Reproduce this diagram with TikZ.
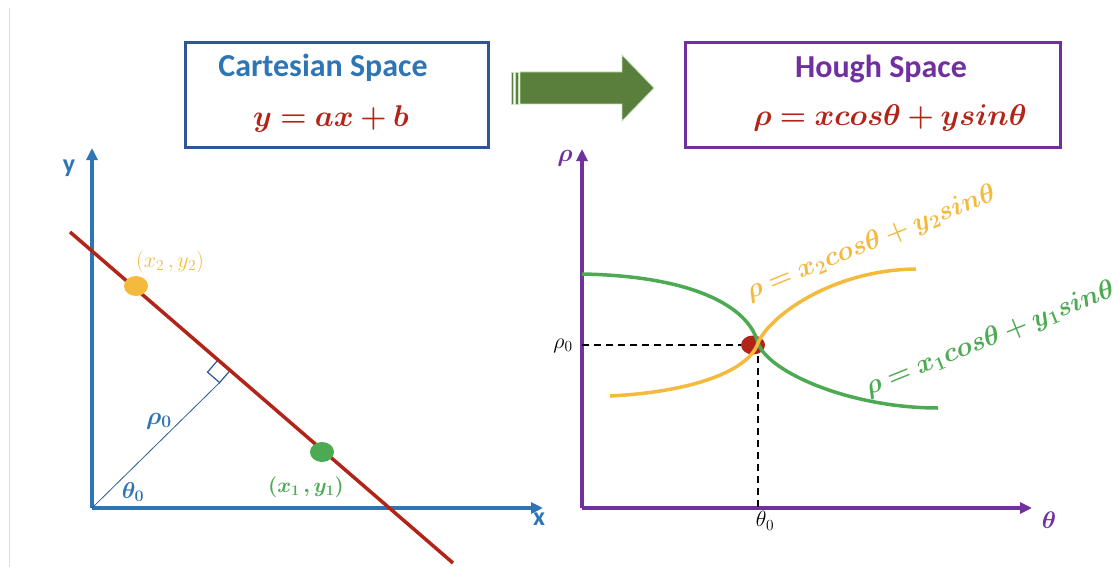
\RequirePackage{fix-cm}
\documentclass[tikz,border=0pt]{standalone}
\usepackage{amsmath,amssymb}
\usepackage{bm}
\usepackage{fontspec}
\setmainfont{Carlito}
\usepackage{xcolor}
\usepackage{tikz}
\usetikzlibrary{arrows.meta,calc}

\definecolor{cartblue}{HTML}{2E75B6}
\definecolor{boxblue}{HTML}{2F5597}
\definecolor{houghpurple}{HTML}{7030A0}
\definecolor{eqred}{HTML}{B22418}
\definecolor{arrowgreen}{HTML}{5A7F3C}
\definecolor{arrowedge}{HTML}{C5E0B4}
\definecolor{ptyellow}{HTML}{F4BA3E}
\definecolor{ptgreen}{HTML}{4CAA52}

\tikzset{
  axisline/.style={line width=3.2pt, -{Triangle[length=12pt,width=11pt]}},
  curveline/.style={line width=3.5pt},
  dashline/.style={line width=1.8pt, dash pattern=on 7pt off 5pt},
  bigtitle/.style={font=\fontsize{32}{38}\selectfont\bfseries, anchor=base},
  bigeq/.style={font=\fontsize{30}{36}\selectfont, text=eqred, anchor=base},
  curvelabel/.style={font=\fontsize{27}{32}\selectfont, rotate=22},
  smalllabel/.style={font=\fontsize{22}{26}\selectfont},
  axislabel/.style={font=\fontsize{26}{30}\selectfont\bfseries}
}

\begin{document}
\begin{tikzpicture}[x=1pt,y=-1pt]
  \useasboundingbox (0,0) rectangle (1118,567);
  \draw[line width=1pt, black!12] (9,8) -- (9,567);

  % title boxes
  \node[draw=boxblue, line width=3pt, minimum width=303pt, minimum height=104pt] (cartbox) at (336.5,95) {};
  \node[bigtitle, text=cartblue] (carttitle) at (323,77) {Cartesian Space};
  \node[bigeq] (carteq) at (331,126) {$\bm{y = ax + b}$};

  \node[draw=houghpurple, line width=3pt, minimum width=375pt, minimum height=104pt] (houghbox) at (872.5,95) {};
  \node[bigtitle, text=houghpurple] (houghtitle) at (881,78) {Hough Space};
  \node[bigeq] (hougheq) at (890,125) {$\bm{\rho = xcos\theta + ysin\theta}$};

  % big arrow
  \draw[fill=arrowgreen, draw=arrowedge, line width=0.8pt] (520,72) -- (622,72) -- (622,55) -- (654,88) -- (622,121) -- (622,104) -- (520,104) -- cycle;
  \draw[fill=arrowgreen, draw=arrowedge, line width=0.6pt] (511,72) rectangle (513,104);
  \draw[fill=arrowgreen, draw=arrowedge, line width=0.6pt] (515.5,72) rectangle (518,104);

  % cartesian axes
  \coordinate (O) at (92,508);
  \coordinate (ytip) at (92,148);
  \coordinate (xtip) at (543,508);
  \draw[axisline, cartblue] (O) -- (ytip);
  \draw[axisline, cartblue] (O) -- (xtip);
  \node[axislabel, text=cartblue] (ylab) at (69,168) {y};
  \node[axislabel, text=cartblue] (xlab) at (539,519) {x};

  % the line and its normal
  \coordinate (L1) at (70,232);
  \coordinate (L2) at (453,563);
  \coordinate (sqa) at (218,360);
  \coordinate (sqb) at (230.1,370.5);
  \coordinate (sqc) at (219.6,382.6);
  \coordinate (sqd) at (207.5,372.1);
  \draw[cartblue!80!black, line width=0.8pt] (O) -- (sqc);
  \draw[boxblue, line width=1.2pt] (sqa) -- (sqd) -- (sqc) -- (sqb);
  \draw[eqred, line width=3.5pt] (L1) -- (L2);

  \fill[ptyellow] (136,286) ellipse (12pt and 10pt);
  \fill[ptgreen] (322,452) ellipse (12pt and 10pt);
  \node[smalllabel, text=ptyellow] (p2) at (170,262) {$(x_2\,, y_2)$};
  \node[font=\fontsize{21}{25}\selectfont, text=ptgreen] (p1) at (306,487) {$\bm{(x_1\,, y_1)}$};
  \node[font=\fontsize{25}{30}\selectfont, text=cartblue] (rho0) at (159,421) {$\bm{\rho_0}$};
  \node[font=\fontsize{23}{28}\selectfont, text=cartblue] (theta0) at (133,492) {$\bm{\theta_0}$};

  % hough axes
  \coordinate (H) at (582,508);
  \coordinate (rhotip) at (582,149);
  \coordinate (thetatip) at (1032,508);
  \draw[axisline, houghpurple] (H) -- (rhotip);
  \draw[axisline, houghpurple] (H) -- (thetatip);
  \node[font=\fontsize{25}{30}\selectfont, text=houghpurple] (rholab) at (565,158) {$\bm{\rho}$};
  \node[font=\fontsize{24}{28}\selectfont, text=houghpurple] (thetalab) at (1049,520) {$\bm{\theta}$};

  % crossing point
  \coordinate (X) at (758,343);
  \fill[eqred] (753,345) ellipse (12pt and 9.5pt);
  \draw[dashline] (582,345) -- (741,345);
  \draw[dashline] (758,356) -- (758,508);
  \node[font=\fontsize{22}{26}\selectfont] (rho0h) at (563,346) {$\rho_0$};
  \node[font=\fontsize{22}{26}\selectfont] (theta0h) at (765,521) {$\theta_0$};

  % sinusoids
  \draw[curveline, ptgreen] (582,274) .. controls (690,276) and (748,305) .. (X) .. controls (768,372) and (850,408) .. (938,408);
  \draw[curveline, ptyellow] (610,396) .. controls (690,392) and (748,372) .. (X) .. controls (768,318) and (830,270) .. (916,269);

  \node[curvelabel, text=ptyellow] (eq2) at (871,243) {$\bm{\rho = x_2cos\theta + y_2sin\theta}$};
  \node[curvelabel, text=ptgreen] (eq1) at (990,339) {$\bm{\rho = x_1cos\theta + y_1sin\theta}$};
\end{tikzpicture}
\end{document}
